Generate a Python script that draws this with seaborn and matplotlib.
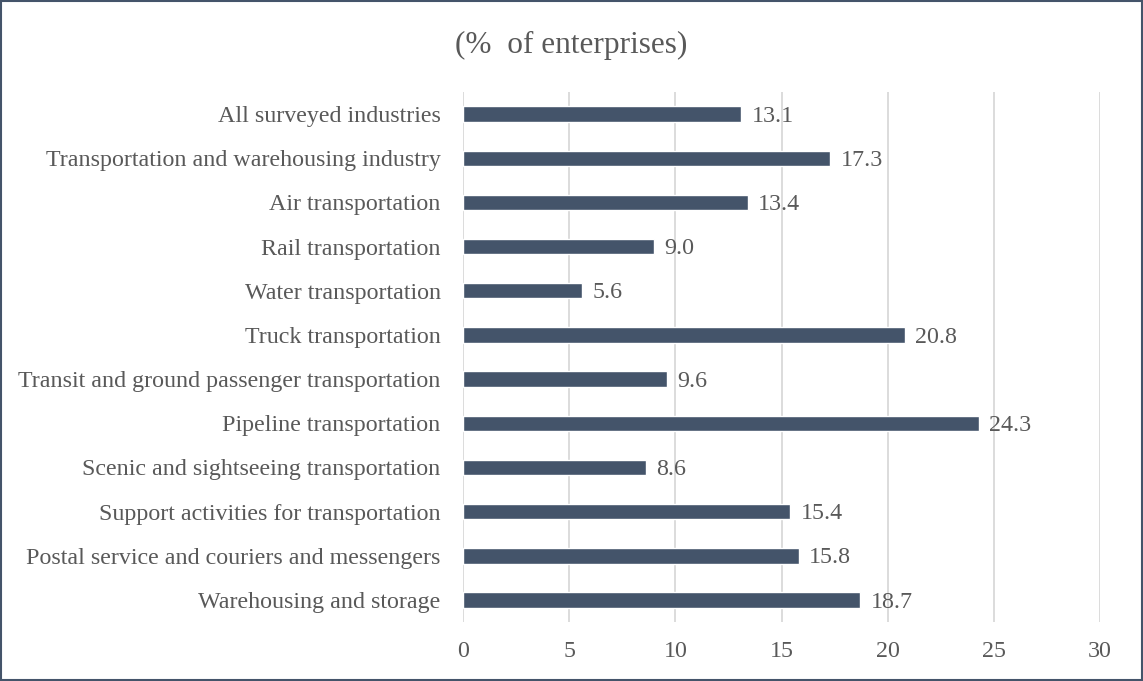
import matplotlib
matplotlib.use("Agg")
import matplotlib.pyplot as plt
import seaborn as sns
import pandas as pd
from matplotlib.patches import Rectangle

industries = [
    "All surveyed industries",
    "Transportation and warehousing industry",
    "Air transportation",
    "Rail transportation",
    "Water transportation",
    "Truck transportation",
    "Transit and ground passenger transportation",
    "Pipeline transportation",
    "Scenic and sightseeing transportation",
    "Support activities for transportation",
    "Postal service and couriers and messengers",
    "Warehousing and storage",
]
share = [13.1, 17.3, 13.4, 9.0, 5.6, 20.8, 9.6, 24.3, 8.6, 15.4, 15.8, 18.7]
x_ticks = [0, 5, 10, 15, 20, 25, 30]

df = pd.DataFrame({"industry": industries, "share": share})

sns.set_theme(style="white")
plt.rcParams['font.family'] = ['Liberation Serif', 'DejaVu Serif']
text_color = "#595959"
bar_color = "#44546A"

fig = plt.figure(figsize=(11.43, 6.81), dpi=100)
ax = fig.add_axes([0.405, 0.0866, 0.5575, 0.7783])

sns.barplot(data=df, x="share", y="industry", color=bar_color,
            width=0.35, saturation=1, ax=ax, zorder=3)

# value labels to the right of each bar
for i, v in enumerate(share):
    ax.annotate(f"{v:.1f}", (v, i), xytext=(7.5, -1.5), textcoords="offset points",
                va="center", ha="left", fontsize=17.3, color=text_color)

ax.set_xlim(0, 30)
ax.set_ylim(len(industries) - 0.5, -0.5)
ax.set_xticks(x_ticks)
ax.set_xticklabels([str(t) for t in x_ticks])
ax.grid(True, axis="x", color="#D9D9D9", linewidth=1.3, zorder=0)
ax.grid(False, axis="y")
for s in ax.spines.values():
    s.set_visible(False)
ax.tick_params(axis="x", length=0, pad=14, labelsize=17.3, labelcolor=text_color)
ax.tick_params(axis="y", length=0, pad=16, labelsize=17.3, labelcolor=text_color)
ax.set_xlabel("")
ax.set_ylabel("")

fig.text(0.5, 0.933, "(%  of enterprises)", ha="center", va="center",
         fontsize=22.5, color=text_color)

fig.patches.append(Rectangle((0.001, 0.0015), 0.998, 0.997, transform=fig.transFigure,
                             fill=False, edgecolor="#44546A", linewidth=1.5))

plt.savefig("out.png", dpi=100)
plt.close()
